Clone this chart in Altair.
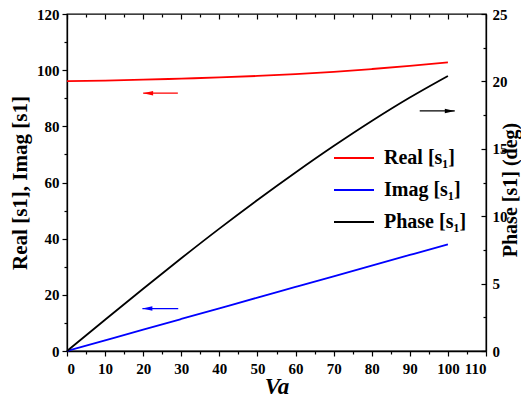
import altair as alt
import pandas as pd

va = [0, 10, 20, 30, 40, 50, 60, 70, 80, 90, 100]
real_s1 = [96.1, 96.3, 96.6, 97.0, 97.4, 97.95, 98.6, 99.4, 100.4, 101.5, 102.8]
imag_s1 = [0.0, 3.8, 7.6, 11.4, 15.2, 19.0, 22.8, 26.6, 30.4, 34.2, 38.0]
phase_s1 = [0.0, 2.32, 4.62, 6.88, 9.08, 11.2, 13.24, 15.2, 17.06, 18.8, 20.4]

series_names = ["Real [s₁]", "Imag [s₁]", "Phase [s₁]"]
series_colors = ["#ff0000", "#0000ff", "#000000"]

x_major = [0, 10, 20, 30, 40, 50, 60, 70, 80, 90, 100, 110]
x_minor = [5, 15, 25, 35, 45, 55, 65, 75, 85, 95, 105]
yl_major = [0, 20, 40, 60, 80, 100, 120]
yl_minor = [10, 30, 50, 70, 90, 110]
yr_major = [0, 5, 10, 15, 20, 25]
yr_minor = [2.5, 7.5, 12.5, 17.5, 22.5]

# arrows: tip x, tail x, y (left-axis units), direction, colour
arrow_tip = [20.0, 19.8, 101.8]
arrow_tail = [29.1, 29.2, 92.6]
arrow_y = [91.8, 15.1, 85.5]
arrow_dir = ["left", "left", "right"]
arrow_col = ["#ff0000", "#0000ff", "#000000"]

FONT = "Times New Roman, Liberation Serif, DejaVu Serif, serif"
W, H = 419, 337

rows = []
for x, r, i, p in zip(va, real_s1, imag_s1, phase_s1):
    rows.append({"Va": x, "series": series_names[0], "v": r})
    rows.append({"Va": x, "series": series_names[1], "v": i})
    rows.append({"Va": x, "series": series_names[2], "v": p})
df = pd.DataFrame(rows)

arr = pd.DataFrame({
    "tip": arrow_tip, "tail": arrow_tail, "y": arrow_y,
    "dir": arrow_dir, "col": arrow_col,
})
arr["head"] = [t + (1.3 if d == "left" else -1.3) for t, d in zip(arr["tip"], arr["dir"])]

style = dict(
    labelFont=FONT, titleFont=FONT, labelFontSize=15, labelFontWeight="bold",
    titleFontWeight="bold", labelColor="black", titleColor="black",
    domainColor="black", tickColor="black", domainWidth=1.3, tickWidth=1.2,
    labelOverlap=False, grid=False,
)

xscale = alt.Scale(domain=[0, 110], nice=False)
yl = alt.Scale(domain=[0, 120], nice=False)
yr = alt.Scale(domain=[0, 25], nice=False)

color = alt.Color(
    "series:N",
    scale=alt.Scale(domain=series_names, range=series_colors),
    sort=series_names,
    legend=alt.Legend(
        title=None, orient="none", legendX=276, legendY=133,
        symbolType="M-2,0H2", symbolSize=400, symbolStrokeWidth=2,
        labelFontSize=20, labelFont=FONT, labelFontWeight="bold",
        labelColor="black",
        rowPadding=11, labelOffset=19, labelLimit=300, padding=0,
    ),
)

bottom_axis = alt.Axis(
    values=x_major, title="Va", titleFontStyle="italic", titleFontSize=23,
    titleBaseline="bottom", titleY=47, labelPadding=5, tickSize=5, **style,
)
left_axis = alt.Axis(
    orient="left", values=yl_major, title="Real [s1], Imag [s1]", titleFontSize=21,
    titlePadding=6, labelPadding=3, tickSize=5, **style,
)
right_axis = alt.Axis(
    orient="right", values=yr_major, ticks=False,
    title="Phase [s1] (deg)", titleFontSize=20,
    titleAngle=270, titleBaseline="top", titleX=14, titleY=H / 2 + 7,
    labelPadding=6, **style,
)

left_lines = alt.Chart(df).transform_filter(
    alt.FieldOneOfPredicate(field="series", oneOf=series_names[:2])
).mark_line(strokeWidth=1.8, interpolate="monotone").encode(
    x=alt.X("Va:Q", scale=xscale, axis=bottom_axis),
    y=alt.Y("v:Q", scale=yl, axis=left_axis),
    color=color,
)

phase_line = alt.Chart(df).transform_filter(
    alt.FieldEqualPredicate(field="series", equal=series_names[2])
).mark_line(strokeWidth=1.8, interpolate="monotone").encode(
    x=alt.X("Va:Q", scale=xscale, axis=None),
    y=alt.Y("v:Q", scale=yr, axis=right_axis),
    color=color,
)

arrow_rules = alt.Chart(arr).mark_rule(strokeWidth=1.3).encode(
    x=alt.X("tip:Q", scale=xscale, axis=None),
    x2="tail:Q",
    y=alt.Y("y:Q", scale=yl, axis=None),
    color=alt.Color("col:N", scale=None),
)
arrow_heads_l = alt.Chart(arr).transform_filter("datum.dir == 'left'").mark_point(
    shape="M-1,0L1,-0.45L1,0.45Z", filled=True, size=100, opacity=1, strokeWidth=0
).encode(
    x=alt.X("head:Q", scale=xscale, axis=None),
    y=alt.Y("y:Q", scale=yl, axis=None),
    color=alt.Color("col:N", scale=None),
)
arrow_heads_r = alt.Chart(arr).transform_filter("datum.dir == 'right'").mark_point(
    shape="M1,0L-1,-0.45L-1,0.45Z", filled=True, size=100, opacity=1, strokeWidth=0
).encode(
    x=alt.X("head:Q", scale=xscale, axis=None),
    y=alt.Y("y:Q", scale=yl, axis=None),
    color=alt.Color("col:N", scale=None),
)


def tick_layer(x_axis, y_axis, yscale):
    return alt.Chart(df).transform_filter(
        alt.FieldEqualPredicate(field="series", equal=series_names[2])
    ).mark_line(strokeOpacity=0).encode(
        x=alt.X("Va:Q", scale=xscale, axis=x_axis),
        y=alt.Y("v:Q", scale=yscale, axis=y_axis),
    )


def ticks_only(orient, values, size, offset=0):
    return alt.Axis(
        orient=orient, values=values, tickSize=size, labels=False,
        domain=False, title=None, offset=offset, tickColor="black",
        tickWidth=1.2, grid=False,
    )


tick_layers = [
    tick_layer(ticks_only("bottom", x_minor, 3), None, yr),
    tick_layer(ticks_only("bottom", x_major, 5, -H), None, yr),
    tick_layer(ticks_only("bottom", x_minor, 3, -H), None, yr),
    tick_layer(None, ticks_only("left", yl_minor, 3), yl),
    tick_layer(None, ticks_only("left", yr_major, 5, -W), yr),
    tick_layer(None, ticks_only("left", yr_minor, 3, -W), yr),
]

chart = alt.layer(
    left_lines, phase_line, arrow_rules, arrow_heads_l, arrow_heads_r, *tick_layers
).resolve_scale(y="independent").resolve_axis(x="independent", y="independent").properties(
    width=W, height=H,
    autosize=alt.AutoSizeParams(type="none"),
    padding={"left": 59, "top": 6, "right": 35, "bottom": 48},
    background="white",
).configure_view(stroke="black", strokeWidth=1.3)

chart.save("out.html", embed_options={"renderer": "svg", "actions": False})
